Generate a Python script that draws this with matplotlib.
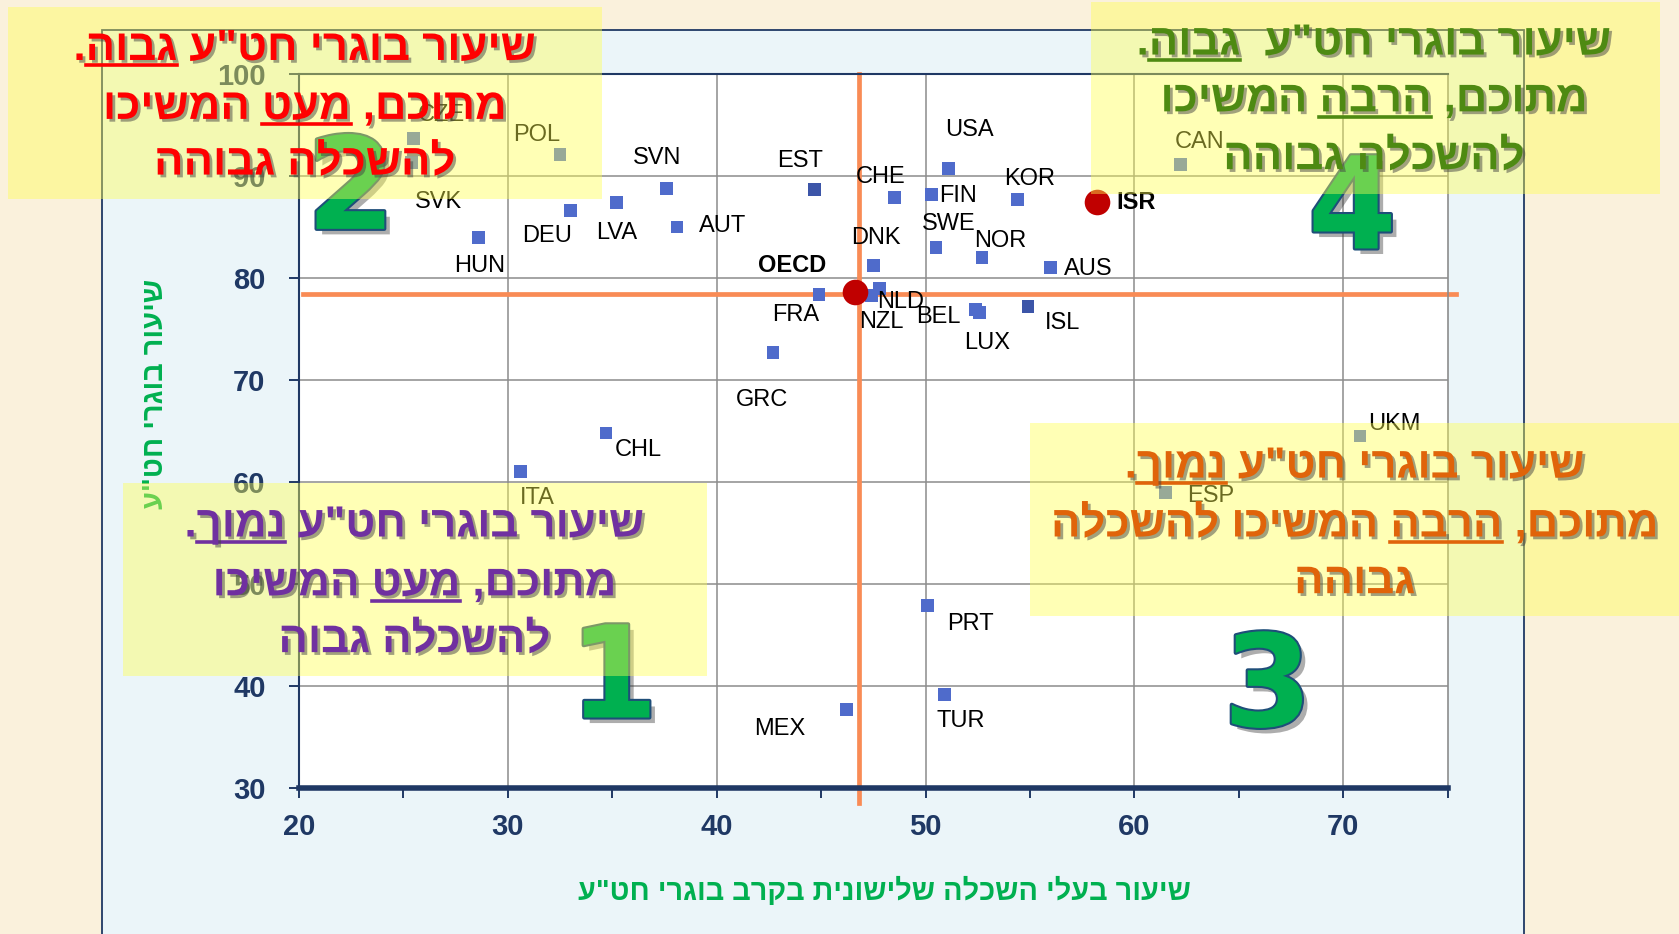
import matplotlib
matplotlib.use("Agg")
import matplotlib.pyplot as plt
import matplotlib.patheffects as pe
from matplotlib.patches import Rectangle
from matplotlib.lines import Line2D
from matplotlib.font_manager import FontProperties

# --- data ---
countries = ["CZE", "SVK", "POL", "HUN", "DEU", "LVA", "SVN", "AUT", "EST", "FRA",
             "GRC", "CHL", "ITA", "MEX", "DNK", "NLD", "NZL", "CHE", "FIN", "USA",
             "SWE", "NOR", "BEL", "LUX", "KOR", "ISL", "AUS", "PRT", "TUR", "CAN",
             "ESP", "UKM"]
tertiary = [25.5, 25.4, 32.5, 28.6, 33.0, 35.2, 37.6, 38.1, 44.7, 44.9,
            42.7, 34.7, 30.6, 46.2, 47.5, 47.8, 47.4, 48.5, 50.3, 51.1,
            50.5, 52.7, 52.4, 52.6, 54.4, 54.9, 56.0, 50.1, 50.9, 62.2,
            61.5, 70.8]
upper_sec = [93.7, 91.3, 92.1, 84.0, 86.6, 87.4, 88.8, 85.0, 88.7, 78.4,
             72.7, 64.8, 61.0, 37.7, 81.2, 79.0, 78.3, 87.9, 88.2, 90.7,
             83.0, 82.0, 76.9, 76.6, 87.7, 77.2, 81.0, 47.9, 39.2, 91.1,
             59.0, 64.5]

highlight = ["OECD", "ISR"]
highlight_x = [46.6, 58.2]
highlight_y = [78.6, 87.4]

avg_x = 46.8
avg_y = 78.4

x_title = 'שיעור בעלי השכלה שלישונית בקרב בוגרי חט"ע'
y_title = 'שיעור בוגרי חט"ע'

q2_lines = ['שיעור בוגרי חט"ע גבוה.', 'מתוכם, מעט המשיכו', 'להשכלה גבוהה']
q2_under = ['גבוה', 'מעט', None]
q4_lines = ['שיעור בוגרי חט"ע  גבוה.', 'מתוכם, הרבה המשיכו', 'להשכלה גבוהה']
q4_under = ['גבוה', 'הרבה', None]
q1_lines = ['שיעור בוגרי חט"ע נמוך.', 'מתוכם, מעט המשיכו', 'להשכלה גבוה']
q1_under = ['נמוך', 'מעט', None]
q3_lines = ['שיעור בוגרי חט"ע נמוך.', 'מתוכם, הרבה המשיכו להשכלה', 'גבוהה']
q3_under = ['נמוך', 'הרבה', None]

# label offsets in points (layout only)
offsets = {
    "CZE": (20, 17), "SVK": (19, -28), "POL": (-17, 14), "HUN": (1, -21),
    "DEU": (-17, -18), "LVA": (0, -22), "SVN": (-7, 22), "AUT": (33, 1),
    "EST": (-11, 20), "CHE": (-10, 15), "FIN": (19, -1), "USA": (15, 28),
    "KOR": (9, 15), "SWE": (9, 17), "NOR": (13, 12), "DNK": (2, 20),
    "AUS": (27, -1), "NLD": (15, -10), "NZL": (7, -19), "FRA": (-17, -15),
    "BEL": (-27, -5), "LUX": (5, -22), "ISL": (25, -12), "GRC": (-8, -34),
    "CHL": (23, -12), "ITA": (12, -19), "CAN": (14, 16), "UKM": (25, 9),
    "ESP": (32, -3), "PRT": (31, -13), "TUR": (12, -19), "MEX": (-48, -14),
    "OECD": (-45, 19), "ISR": (28, 0),
}

NAVY = "#1F3864"
HEB = ["Liberation Sans", "DejaVu Sans"]
NARROW = ["Liberation Sans Narrow", "Liberation Sans", "DejaVu Sans"]

fig = plt.figure(figsize=(16.79, 9.34), dpi=100, facecolor="#FAF1DC")
W_PX, H_PX = 1679, 934
renderer = fig.canvas.get_renderer()

# light blue panel
fig.add_artist(Rectangle((0.0606, -0.01), 0.847, 0.978, transform=fig.transFigure,
                         facecolor="#EBF5F9", edgecolor="#1F3864", lw=1.3, zorder=-1))

ax = fig.add_axes([0.178, 0.1562, 0.6843, 0.7647])
ax.set_facecolor("white")
ax.set_xlim(20, 75)
ax.set_ylim(30, 100)
ax.set_xticks(range(20, 80, 10))
ax.set_xticks(range(25, 80, 10), minor=True)
ax.set_yticks(range(30, 110, 10))
ax.grid(True, which="major", color="#8C8C8C", lw=1.1)
ax.set_axisbelow(True)
for side in ["left", "top"]:
    ax.spines[side].set(color=NAVY, lw=1.5)
ax.spines["right"].set(color="#8C8C8C", lw=1.2)
ax.spines["bottom"].set(color=NAVY, lw=4)
ax.tick_params(axis="both", which="both", direction="out", length=7, width=1.4,
               color=NAVY, labelcolor=NAVY, labelsize=21)
ax.tick_params(axis="x", pad=11)
ax.tick_params(axis="y", pad=17)
for lab in ax.get_xticklabels() + ax.get_yticklabels():
    lab.set_fontweight("bold")
    lab.set_family(NARROW)

# average lines
ax.plot([20.2, 75.4], [avg_y, avg_y], color="#F98B55", lw=3.4, clip_on=False, zorder=2)
ax.plot([avg_x, avg_x], [28.5, 100], color="#F98B55", lw=3.4, clip_on=False, zorder=2)

colors = ["#3C55A8" if c in ("EST", "ISL") else "#4F6BCB" for c in countries]
ax.scatter(tertiary, upper_sec, marker="s", s=85, c=colors, linewidths=0, zorder=3)
for name, x, y in zip(countries, tertiary, upper_sec):
    ax.annotate(name, (x, y), xytext=offsets[name], textcoords="offset points",
                ha="center", va="center", fontsize=17, family=NARROW, color="black", zorder=4)

ax.scatter(highlight_x, highlight_y, s=340, c="#C00000", linewidths=0, zorder=5)
for name, x, y in zip(highlight, highlight_x, highlight_y):
    ax.annotate(name, (x, y), xytext=offsets[name], textcoords="offset points",
                ha="center", va="center", fontsize=17, fontweight="bold",
                family=NARROW, color="black", zorder=6)


def text_w(s, size, family, weight="bold"):
    fp = FontProperties(family=family, size=size, weight=weight)
    return renderer.get_text_width_height_descent(s, fp, ismath=False)[0]


def fit(s, width_px, family):
    return 20 * width_px / text_w(s, 20, family)


# axis titles
xs = fit(x_title[::-1], 613, HEB)
fig.text(0.5268, 0.046, x_title[::-1], ha="center", va="center", fontsize=xs,
         fontweight="bold", family=HEB, color="#00B050")
ys = fit(y_title[::-1], 230, HEB)
fig.text(0.0923, 0.578, y_title[::-1], ha="center", va="center", rotation=90,
         fontsize=ys, fontweight="bold", family=HEB, color="#00B050")

# big quadrant numbers
num_fx = [pe.SimplePatchShadow(offset=(4, -4), shadow_rgbFace="#333333", alpha=0.4),
          pe.withStroke(linewidth=3, foreground="#1F4E79")]
for num, x, y in [("2", 0.209, 0.793), ("4", 0.8054, 0.772),
                  ("1", 0.3655, 0.2698), ("3", 0.755, 0.2606)]:
    fig.text(x, y, num, ha="center", va="center", fontsize=92, fontweight="bold",
             family="DejaVu Sans", color="#00B050", path_effects=num_fx, zorder=3)

# yellow boxes
for x0, y0, x1, y1 in [(0.0045, 0.7867, 0.3584, 0.992), (0.6499, 0.7925, 0.9885, 0.9977),
                       (0.0733, 0.2766, 0.4209, 0.483), (0.6135, 0.3408, 1.0, 0.5471)]:
    fig.add_artist(Rectangle((x0, y0), x1 - x0, y1 - y0, transform=fig.transFigure,
                             facecolor="#FFFF50", edgecolor="none", alpha=0.42, zorder=4))

heb_size = fit(q2_lines[0][::-1], 462, HEB)
txt_fx = [pe.SimplePatchShadow(offset=(2, -2), shadow_rgbFace="#444444", alpha=0.5), pe.Normal()]


def heb_line(cx, cy, logical, under, color):
    vis = logical[::-1]
    em = heb_size * 100 / 72
    base = cy - 0.27 * em / H_PX
    fig.text(cx, base, vis, ha="center", va="baseline", fontsize=heb_size, fontweight="bold",
             family=HEB, color=color, path_effects=txt_fx, zorder=6)
    if under:
        uw = under[::-1]
        i = vis.find(uw)
        full = text_w(vis, heb_size, HEB)
        right = text_w(vis[:i + len(uw)], heb_size, HEB)
        ww = text_w(uw, heb_size, HEB)
        left_px = cx * W_PX - full / 2 + right - ww
        uy = base - 0.12 * em / H_PX
        fig.add_artist(Line2D([left_px / W_PX, (left_px + ww) / W_PX], [uy, uy],
                              transform=fig.transFigure, color=color, lw=2.6,
                              path_effects=txt_fx, zorder=6))


for lines, unders, cx, cys, color in [
        (q2_lines, q2_under, 0.1815, [0.9484, 0.8853, 0.8257], "#FF0000"),
        (q4_lines, q4_under, 0.8183, [0.9542, 0.8934, 0.8315], "#4E8A12"),
        (q1_lines, q1_under, 0.2468, [0.4382, 0.3752, 0.3144], "#7030A0"),
        (q3_lines, q3_under, 0.8068, [0.5013, 0.4382, 0.3775], "#E0640A")]:
    for s, u, cy in zip(lines, unders, cys):
        heb_line(cx, cy, s, u, color)

fig.savefig("out.png", dpi=100, facecolor=fig.get_facecolor())
